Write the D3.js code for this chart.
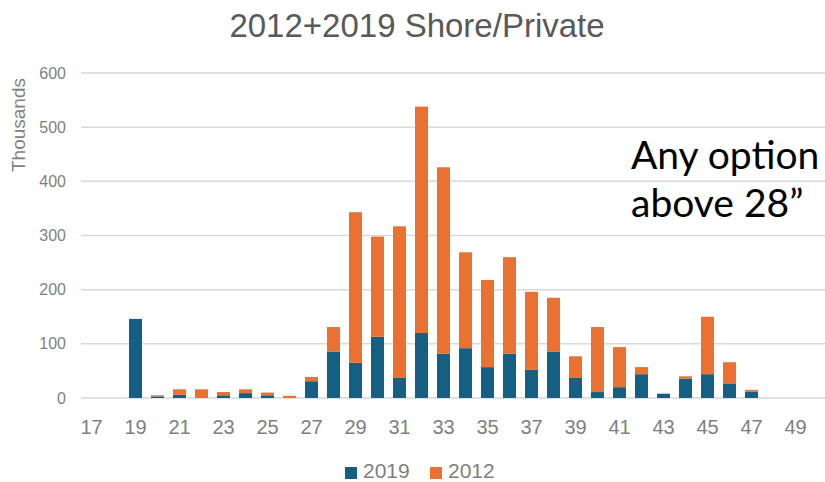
<!DOCTYPE html>
<html>
<head>
<meta charset="utf-8">
<script src="https://cdn.jsdelivr.net/npm/d3@7"></script>
<style>
  body { margin: 0; background: #fff; }
  svg { display: block; font-family: "Liberation Sans", Arial, sans-serif; }
</style>
</head>
<body>
<div id="chart"></div>
<script>
// screen sizes (inches) 17..49
let sizes = d3.range(17, 50).map(String);
let tickSizes = ["17", "19", "21", "23", "25", "27", "29", "31", "33", "35", "37", "39", "41", "43", "45", "47", "49"];
let yTicks = [0, 100, 200, 300, 400, 500, 600];

// values in thousands
let v2019 = [0, 0, 146, 3, 6, 0, 5, 9, 5, 0, 31, 86, 65, 113, 37, 120, 82, 92, 57, 82, 52, 86, 37, 11, 20, 44, 8, 36, 44, 27, 12, 0, 0];
let v2012 = [0, 0, 0, 2, 10, 16, 6, 7, 5, 4, 8, 45, 278, 185, 280, 418, 344, 177, 161, 178, 144, 99, 40, 120, 74, 13, 0, 4, 106, 39, 3, 0, 0];

let seriesNames = ["2019", "2012"];
let colors = ["#156082", "#E97132"];

let w = 825, h = 482;
let svg = d3.select("#chart").append("svg").attr("width", w).attr("height", h);

let rows = sizes.map((s, i) => ({ size: s, "2019": v2019[i], "2012": v2012[i] }));
let stacked = d3.stack().keys(seriesNames)(rows);

let x = d3.scaleBand()
  .domain(sizes)
  .range([80.5, 806.5])
  .paddingInner(0.41)
  .paddingOuter(0.205);

let y = d3.scaleLinear().domain([0, 600]).range([398, 73]);

// title
svg.append("text")
  .attr("x", 417).attr("y", 37)
  .attr("text-anchor", "middle")
  .style("font-size", "33px")
  .style("fill", "#595959")
  .text("2012+2019 Shore/Private");

// gridlines
svg.append("g")
  .selectAll("line")
  .data(yTicks)
  .enter()
  .append("line")
  .attr("x1", 81).attr("x2", 825)
  .attr("y1", d => y(d)).attr("y2", d => y(d))
  .attr("stroke", "#d9d9d9")
  .attr("stroke-width", 1.5);

// y axis labels
let yAxis = svg.append("g")
  .attr("transform", "translate(66,0)")
  .call(d3.axisLeft(y).tickValues(yTicks).tickSize(0).tickPadding(0));
yAxis.select(".domain").remove();
yAxis.selectAll("text")
  .style("font-family", "Liberation Sans, Arial, sans-serif")
  .style("font-size", "16px")
  .style("fill", "#7f7f7f");

// axis title
svg.append("text")
  .attr("transform", "translate(25,125) rotate(-90)")
  .attr("text-anchor", "middle")
  .style("font-size", "19px")
  .style("fill", "#7f7f7f")
  .text("Thousands");

// bars
svg.append("g")
  .selectAll("g")
  .data(stacked)
  .enter()
  .append("g")
  .attr("fill", (d, i) => colors[i])
  .selectAll("rect")
  .data(d => d)
  .enter()
  .append("rect")
  .attr("x", d => x(d.data.size))
  .attr("width", x.bandwidth())
  .attr("y", d => y(d[1]))
  .attr("height", d => y(d[0]) - y(d[1]));

// x axis labels
let xAxis = svg.append("g")
  .attr("transform", "translate(0,420)")
  .call(d3.axisBottom(x).tickValues(tickSizes).tickSize(0).tickPadding(0));
xAxis.select(".domain").remove();
xAxis.selectAll("text")
  .style("font-family", "Liberation Sans, Arial, sans-serif")
  .style("font-size", "20px")
  .style("fill", "#7f7f7f");

// annotation
let note = svg.append("text")
  .style("font-family", "Lato, sans-serif")
  .style("font-size", "39px")
  .style("fill", "#000");
note.append("tspan").attr("x", 631).attr("y", 169).text("Any option");
note.append("tspan").attr("x", 631).attr("y", 217).text("above 28\u201D");

// legend
let legendX = [345, 430];
let legend = svg.append("g");
seriesNames.forEach((name, i) => {
  legend.append("rect")
    .attr("x", legendX[i]).attr("y", 467)
    .attr("width", 12).attr("height", 12)
    .attr("fill", colors[i]);
  legend.append("text")
    .attr("x", legendX[i] + 18).attr("y", 478)
    .style("font-size", "21px")
    .style("fill", "#7f7f7f")
    .text(name);
});
</script>
</body>
</html>
